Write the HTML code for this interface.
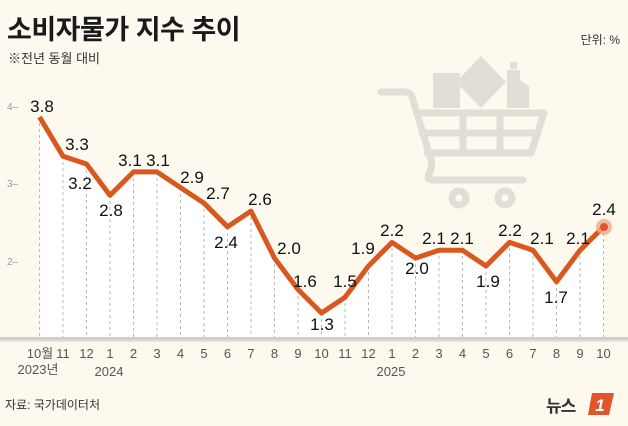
<!DOCTYPE html>
<html><head><meta charset="utf-8"><style>
body{margin:0;background:#fdf9ef;}
svg{display:block;font-family:"Liberation Sans","Noto Sans CJK KR",sans-serif;}
</style></head><body>
<svg width="628" height="426" viewBox="0 0 628 426">
<rect width="628" height="426" fill="#fdf9ef"/>
<text x="7" y="39" font-size="27" font-weight="bold" fill="#1a1a1a" letter-spacing="-0.5">소비자물가 지수 추이</text>
<text x="8" y="63" font-size="13" fill="#333">※전년 동월 대비</text>
<text x="620" y="44" font-size="12" fill="#333" text-anchor="end">단위: %</text>
<!-- cart -->
<g fill="#e3ded5" stroke="none">
<rect x="433" y="73" width="27" height="35"/>
<polygon points="481,56 506,82 481,108 456,82"/>
<rect x="510" y="62" width="7" height="7"/>
<path d="M507 70h13v10l9 6v22h-22z"/>
</g>
<g fill="none" stroke="#e3ded5" stroke-width="7" stroke-linecap="round" stroke-linejoin="round">
<path d="M381 92h24q6 0 8 8l18 60q2 6 -2 14q-3 6 4 6h90"/>
<path d="M417 113h127l-13 40h-104"/>
<path d="M422 133h116"/>
<path d="M463 113v40M500 113v40"/>
<circle cx="459" cy="198" r="7"/>
<circle cx="505" cy="198" r="7"/>
</g>
<!-- chart -->
<polygon fill="#ffffff" points="39.5,117 63,156.2 86.5,164 110,195.4 133.5,171.9 157,171.9 180.5,187.6 204,203.2 227.5,226.8 251,211.1 274.5,258.1 298,289.5 321.5,313 345,297.3 368.5,266 392,242.4 415.5,258.1 439,250.3 462.5,250.3 486,266 509.5,242.4 533,250.3 556.5,281.7 580,250.3 603.5,226.8 603.5,338 39.5,338"/>
<g stroke="#b8b8b8" stroke-width="1" stroke-dasharray="3,3">
<line x1="39.5" y1="117" x2="39.5" y2="338"/><line x1="63" y1="156" x2="63" y2="338"/><line x1="86.5" y1="164" x2="86.5" y2="338"/><line x1="110" y1="195" x2="110" y2="338"/><line x1="133.5" y1="172" x2="133.5" y2="338"/><line x1="157" y1="172" x2="157" y2="338"/><line x1="180.5" y1="188" x2="180.5" y2="338"/><line x1="204" y1="203" x2="204" y2="338"/><line x1="227.5" y1="227" x2="227.5" y2="338"/><line x1="251" y1="211" x2="251" y2="338"/><line x1="274.5" y1="258" x2="274.5" y2="338"/><line x1="298" y1="290" x2="298" y2="338"/><line x1="321.5" y1="313" x2="321.5" y2="338"/><line x1="345" y1="297" x2="345" y2="338"/><line x1="368.5" y1="266" x2="368.5" y2="338"/><line x1="392" y1="242" x2="392" y2="338"/><line x1="415.5" y1="258" x2="415.5" y2="338"/><line x1="439" y1="250" x2="439" y2="338"/><line x1="462.5" y1="250" x2="462.5" y2="338"/><line x1="486" y1="266" x2="486" y2="338"/><line x1="509.5" y1="242" x2="509.5" y2="338"/><line x1="533" y1="250" x2="533" y2="338"/><line x1="556.5" y1="282" x2="556.5" y2="338"/><line x1="580" y1="250" x2="580" y2="338"/><line x1="603.5" y1="227" x2="603.5" y2="338"/>
</g>
<rect x="0" y="337" width="628" height="3" fill="#cfcfcf"/>
<rect x="0" y="340" width="628" height="2" fill="#e4e2dc"/>
<g font-size="10" fill="#999">
<text x="7" y="110">4–</text><text x="7" y="187">3–</text><text x="7" y="265">2–</text>
</g>
<polyline fill="none" stroke="#d9581f" stroke-width="5" stroke-linejoin="round" points="39.5,117 63,156.2 86.5,164 110,195.4 133.5,171.9 157,171.9 180.5,187.6 204,203.2 227.5,226.8 251,211.1 274.5,258.1 298,289.5 321.5,313 345,297.3 368.5,266 392,242.4 415.5,258.1 439,250.3 462.5,250.3 486,266 509.5,242.4 533,250.3 556.5,281.7 580,250.3 603.5,226.8"/>
<circle cx="604" cy="227" r="8" fill="#f2a98a" opacity="0.8"/>
<circle cx="604" cy="227" r="4" fill="#e0552a"/>
<g font-size="17" fill="#111" text-anchor="middle">
<text x="42" y="112">3.8</text><text x="77" y="150">3.3</text><text x="80" y="189">3.2</text><text x="111" y="216">2.8</text><text x="130" y="166">3.1</text><text x="158" y="166">3.1</text><text x="192" y="183">2.9</text><text x="218" y="199">2.7</text><text x="226" y="248">2.4</text><text x="260" y="205">2.6</text><text x="289" y="254">2.0</text><text x="305" y="287">1.6</text><text x="322" y="330">1.3</text><text x="345" y="287">1.5</text><text x="363" y="254">1.9</text><text x="392" y="236">2.2</text><text x="417" y="274">2.0</text><text x="434" y="244">2.1</text><text x="462" y="244">2.1</text><text x="488" y="287">1.9</text><text x="510" y="236">2.2</text><text x="542" y="244">2.1</text><text x="556" y="303">1.7</text><text x="578" y="244">2.1</text><text x="604" y="215">2.4</text>
</g>
<g font-size="13" fill="#555" text-anchor="middle">
<text x="40" y="358">10월</text><text x="63" y="358">11</text><text x="86.5" y="358">12</text><text x="110" y="358">1</text><text x="133.5" y="358">2</text><text x="157" y="358">3</text><text x="180.5" y="358">4</text><text x="204" y="358">5</text><text x="227.5" y="358">6</text><text x="251" y="358">7</text><text x="274.5" y="358">8</text><text x="298" y="358">9</text><text x="321.5" y="358">10</text><text x="345" y="358">11</text><text x="368.5" y="358">12</text><text x="392" y="358">1</text><text x="415.5" y="358">2</text><text x="439" y="358">3</text><text x="462.5" y="358">4</text><text x="486" y="358">5</text><text x="509.5" y="358">6</text><text x="533" y="358">7</text><text x="556.5" y="358">8</text><text x="580" y="358">9</text><text x="603.5" y="358">10</text>
<text x="38" y="374">2023년</text><text x="109" y="376">2024</text><text x="391" y="376">2025</text>
</g>
<text x="5" y="409" font-size="12" fill="#333">자료: 국가데이터처</text>
<text x="546" y="412" font-size="17" font-weight="bold" fill="#333" letter-spacing="-1">뉴스</text>
<path d="M592 393h22l-5 22h-21z" fill="#e0552a"/>
<text x="600" y="411" font-size="17" font-weight="bold" font-style="italic" fill="#fff" text-anchor="middle">1</text>
</svg>
</body></html>
